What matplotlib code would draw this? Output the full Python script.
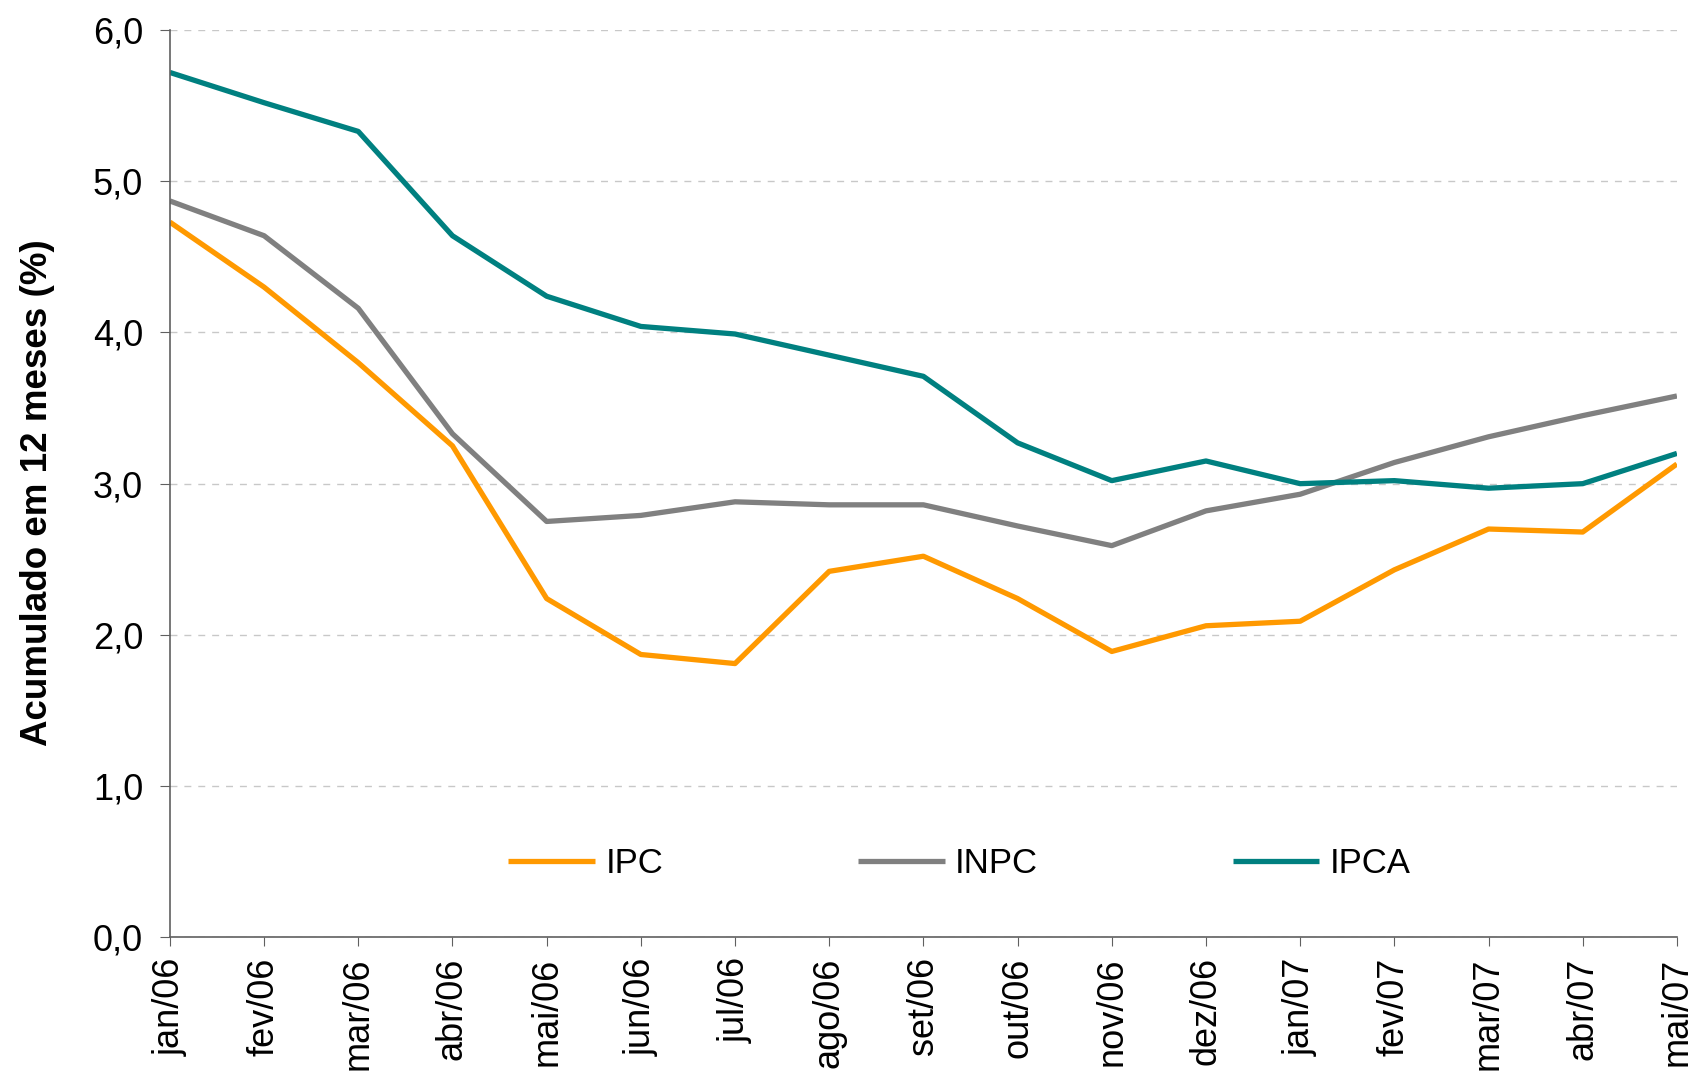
import matplotlib.pyplot as plt
from matplotlib.ticker import FuncFormatter

plt.rcParams['font.family'] = ['Liberation Sans', 'DejaVu Sans']

months = ['jan/06', 'fev/06', 'mar/06', 'abr/06', 'mai/06', 'jun/06', 'jul/06',
          'ago/06', 'set/06', 'out/06', 'nov/06', 'dez/06', 'jan/07', 'fev/07',
          'mar/07', 'abr/07', 'mai/07']

ipc = [4.73, 4.30, 3.80, 3.25, 2.24, 1.87, 1.81, 2.42, 2.52, 2.24, 1.89,
       2.06, 2.09, 2.43, 2.70, 2.68, 3.13]
inpc = [4.87, 4.64, 4.16, 3.33, 2.75, 2.79, 2.88, 2.86, 2.86, 2.72, 2.59,
        2.82, 2.93, 3.14, 3.31, 3.45, 3.58]
ipca = [5.72, 5.52, 5.33, 4.64, 4.24, 4.04, 3.99, 3.85, 3.71, 3.27, 3.02,
        3.15, 3.00, 3.02, 2.97, 3.00, 3.20]


def main():
    fig = plt.figure(figsize=(16.99, 10.76), dpi=100)
    ax = fig.add_axes([0.1, 0.129, 0.887, 0.843])

    x = range(len(months))
    ax.plot(x, ipc, color='#FF9900', lw=3.8, label='IPC', solid_capstyle='butt')
    ax.plot(x, inpc, color='#808080', lw=3.8, label='INPC', solid_capstyle='butt')
    ax.plot(x, ipca, color='#008080', lw=3.8, label='IPCA', solid_capstyle='butt')

    ax.set_xlim(0, len(months) - 1)
    ax.set_ylim(0, 6)
    ax.set_yticks(range(7))
    ax.yaxis.set_major_formatter(FuncFormatter(lambda v, p: f'{v:.1f}'.replace('.', ',')))
    ax.set_xticks(list(x))
    ax.set_xticklabels(months, rotation=90, fontsize=26)
    ax.tick_params(axis='y', labelsize=26, length=7.2, pad=12, color='#606060', direction='out')
    ax.tick_params(axis='x', length=6.5, pad=8, color='#606060', direction='out')

    ax.grid(axis='y', color='#C8C8C8', ls=(0, (5, 5)), lw=1)
    ax.set_axisbelow(True)
    for side in ['top', 'right']:
        ax.spines[side].set_visible(False)
    for side in ['left', 'bottom']:
        ax.spines[side].set_color('#606060')
        ax.spines[side].set_linewidth(1.2)

    ax.set_ylabel('Acumulado em 12 meses (%)', fontsize=26.5, fontweight='bold')
    ax.yaxis.set_label_coords(-0.076, 0.49)

    ax.legend(loc='center', bbox_to_anchor=(0.524, 0.0816), ncol=3, frameon=False,
              prop={'size': 25}, handlelength=2.5, handletextpad=0.3, columnspacing=5.6)

    fig.savefig('out.png', dpi=100)


if __name__ == "__main__":
    main()
